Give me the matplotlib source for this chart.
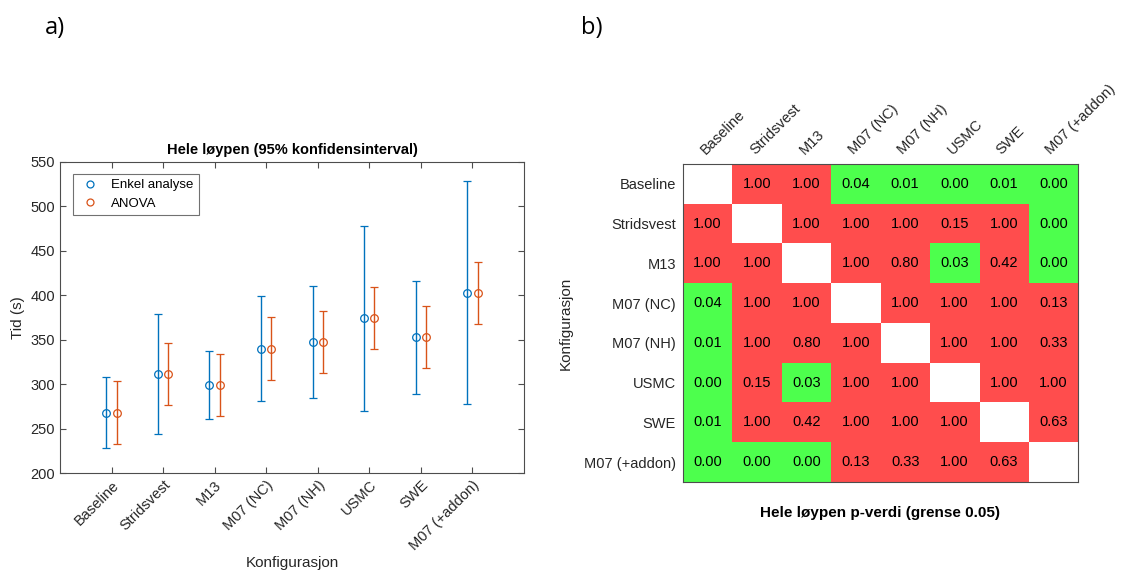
"""
Hele løypen: konfidensintervall og parvise p-verdier.
"""

import numpy as np
import matplotlib
matplotlib.use("Agg")
import matplotlib.pyplot as plt
from matplotlib.colors import ListedColormap
from matplotlib.lines import Line2D

plt.rcParams["font.family"] = ["Liberation Sans", "DejaVu Sans"]

# ---------------------------------------------------------------------------
# Data
# ---------------------------------------------------------------------------
configs = ["Baseline", "Stridsvest", "M13", "M07 (NC)", "M07 (NH)",
           "USMC", "SWE", "M07 (+addon)"]

mean_time = [268, 311, 299, 340, 347, 374, 353, 403]
enkel_low = [228, 244, 261, 281, 284, 270, 289, 278]
enkel_high = [308, 379, 337, 399, 410, 478, 416, 529]
anova_low = [233, 276, 264, 305, 312, 339, 318, 368]
anova_high = [303, 346, 334, 375, 382, 409, 388, 438]

p_values = [
    [np.nan, 1.00, 1.00, 0.04, 0.01, 0.00, 0.01, 0.00],
    [1.00, np.nan, 1.00, 1.00, 1.00, 0.15, 1.00, 0.00],
    [1.00, 1.00, np.nan, 1.00, 0.80, 0.03, 0.42, 0.00],
    [0.04, 1.00, 1.00, np.nan, 1.00, 1.00, 1.00, 0.13],
    [0.01, 1.00, 0.80, 1.00, np.nan, 1.00, 1.00, 0.33],
    [0.00, 0.15, 0.03, 1.00, 1.00, np.nan, 1.00, 1.00],
    [0.01, 1.00, 0.42, 1.00, 1.00, 1.00, np.nan, 0.63],
    [0.00, 0.00, 0.00, 0.13, 0.33, 1.00, 0.63, np.nan],
]
p_limit = 0.05

BLUE = "#0072BD"
ORANGE = "#D95319"
RED = "#FF4D4D"
GREEN = "#4DFF4D"
FRAME = "#4d4d4d"
TEXT = "#262626"

fig = plt.figure(figsize=(11.44, 5.76), dpi=100)

# ---------------------------------------------------------------------------
# a) Confidence intervals
# ---------------------------------------------------------------------------
ax1 = fig.add_axes([0.0524, 0.1788, 0.4056, 0.540])
x = np.arange(1, len(configs) + 1)
mean = np.array(mean_time)

ax1.errorbar(x - 0.1, mean,
             yerr=[mean - np.array(enkel_low), np.array(enkel_high) - mean],
             fmt="o", color=BLUE, mfc="none", ms=5.5, mew=0.9,
             elinewidth=1.0, capsize=3, capthick=1.0)
ax1.errorbar(x + 0.1, mean,
             yerr=[mean - np.array(anova_low), np.array(anova_high) - mean],
             fmt="o", color=ORANGE, mfc="none", ms=5.5, mew=0.9,
             elinewidth=1.0, capsize=3, capthick=1.0)

ax1.set_xlim(0, 9)
ax1.set_ylim(200, 550)
ax1.set_yticks(range(200, 551, 50))
ax1.set_xticks(x)
ax1.set_xticklabels(configs, rotation=45, ha="right", rotation_mode="anchor")
ax1.tick_params(direction="in", length=4, color=FRAME, labelcolor=TEXT,
                labelsize=10.5, top=True, right=True)
for s in ax1.spines.values():
    s.set_color(FRAME)
    s.set_linewidth(0.8)
ax1.set_xlabel("Konfigurasjon", fontsize=11, color=TEXT, labelpad=2)
ax1.set_ylabel("Tid (s)", fontsize=11, color=TEXT)
ax1.set_title("Hele løypen (95% konfidensinterval)", fontsize=10.5,
              fontweight="bold", pad=6)

handles = [
    Line2D([], [], ls="none", marker="o", mfc="none", mec=BLUE, ms=5, mew=0.9),
    Line2D([], [], ls="none", marker="o", mfc="none", mec=ORANGE, ms=5, mew=0.9),
]
leg = ax1.legend(handles, ["Enkel analyse", "ANOVA"], loc="upper left",
                 fontsize=9.5, frameon=True, fancybox=False,
                 handletextpad=0.7, borderpad=0.4, handlelength=1.8,
                 borderaxespad=0.3, bbox_to_anchor=(0.02, 0.975))
leg.get_frame().set_edgecolor(FRAME)
leg.get_frame().set_linewidth(0.8)

# ---------------------------------------------------------------------------
# b) p-value matrix
# ---------------------------------------------------------------------------
ax2 = fig.add_axes([0.597, 0.1632, 0.3453, 0.552])
pv = np.array(p_values, dtype=float)
sig = np.where(np.isnan(pv), np.nan, (pv >= p_limit).astype(float))
ax2.imshow(np.ma.masked_invalid(sig), cmap=ListedColormap([GREEN, RED]),
           vmin=0, vmax=1, aspect="auto", interpolation="nearest")
n = len(configs)
for i in range(n):
    for j in range(n):
        if not np.isnan(pv[i, j]):
            ax2.text(j, i, f"{pv[i, j]:.2f}", ha="center", va="center",
                     fontsize=10.5, color="black")

ax2.set_xticks(range(n))
ax2.set_yticks(range(n))
ax2.xaxis.tick_top()
ax2.set_xticklabels(configs, rotation=45, ha="left", rotation_mode="anchor")
ax2.set_yticklabels(configs)
ax2.tick_params(length=0, labelsize=10.5, labelcolor=TEXT, pad=5)
for s in ax2.spines.values():
    s.set_color(FRAME)
    s.set_linewidth(0.8)
ax2.set_ylabel("Konfigurasjon", fontsize=11, color=TEXT, labelpad=8)
ax2.set_xlabel("Hele løypen p-verdi (grense 0.05)", fontsize=11,
               fontweight="bold", labelpad=17)

# panel labels
fig.text(0.039, 0.952, "a)", fontsize=17, family=["Open Sans", "DejaVu Sans"],
         va="center")
fig.text(0.508, 0.952, "b)", fontsize=17, family=["Open Sans", "DejaVu Sans"],
         va="center")

fig.savefig("out.png", dpi=100, facecolor="white")
